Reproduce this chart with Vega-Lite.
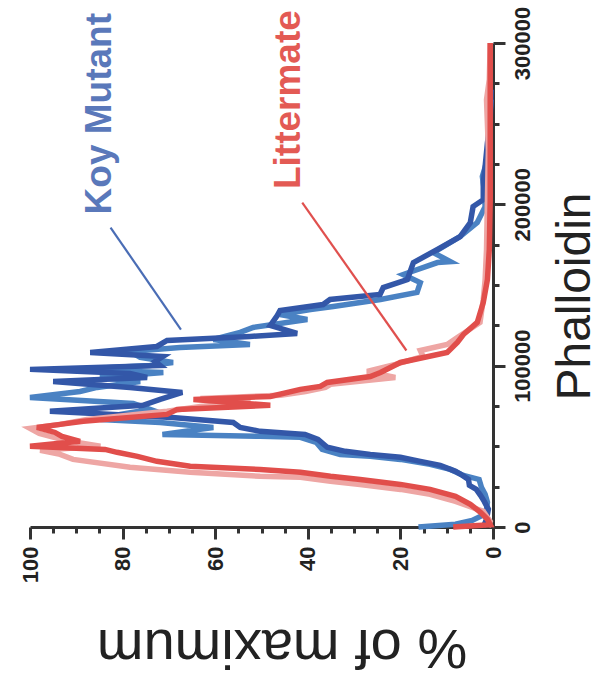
{
  "$schema": "https://vega.github.io/schema/vega-lite/v6.json",
  "width": 463,
  "height": 484,
  "autosize": "none",
  "padding": {"left": 30, "top": 43, "right": 109, "bottom": 154},
  "background": "white",
  "config": {"view": {"stroke": null}, "font": "Liberation Sans"},
  "datasets": {
    "koy1": [
      {"phalloidin": 0, "pct": 2.1}, {"phalloidin": 4800, "pct": 1.4}, {"phalloidin": 11000, "pct": 1.0}, {"phalloidin": 15900, "pct": 1.9},
      {"phalloidin": 19600, "pct": 2.7}, {"phalloidin": 23300, "pct": 3.6}, {"phalloidin": 25800, "pct": 5.1}, {"phalloidin": 29500, "pct": 5.3},
      {"phalloidin": 32000, "pct": 6.6}, {"phalloidin": 34500, "pct": 8.1}, {"phalloidin": 38200, "pct": 11.4}, {"phalloidin": 40700, "pct": 15.7},
      {"phalloidin": 43200, "pct": 20.0}, {"phalloidin": 45000, "pct": 26.5}, {"phalloidin": 46900, "pct": 31.9}, {"phalloidin": 49400, "pct": 35.8},
      {"phalloidin": 54300, "pct": 37.8}, {"phalloidin": 57400, "pct": 40.6}, {"phalloidin": 59300, "pct": 50.3}, {"phalloidin": 61700, "pct": 54.6},
      {"phalloidin": 64800, "pct": 56.1}, {"phalloidin": 67900, "pct": 69.3}, {"phalloidin": 71700, "pct": 95.7}, {"phalloidin": 75400, "pct": 75.6},
      {"phalloidin": 79100, "pct": 71.9}, {"phalloidin": 83400, "pct": 67.1}, {"phalloidin": 86500, "pct": 78.4}, {"phalloidin": 90200, "pct": 95.0},
      {"phalloidin": 92700, "pct": 74.7}, {"phalloidin": 95200, "pct": 78.4}, {"phalloidin": 97700, "pct": 100}, {"phalloidin": 100100, "pct": 71.9},
      {"phalloidin": 102600, "pct": 73.0}, {"phalloidin": 105700, "pct": 71.3}, {"phalloidin": 108200, "pct": 87.0}, {"phalloidin": 111900, "pct": 72.6},
      {"phalloidin": 115600, "pct": 70.4}, {"phalloidin": 118100, "pct": 52.5}, {"phalloidin": 120000, "pct": 42.3}, {"phalloidin": 124900, "pct": 48.1},
      {"phalloidin": 131100, "pct": 46.6}, {"phalloidin": 134200, "pct": 46.0}, {"phalloidin": 137900, "pct": 36.7}, {"phalloidin": 141000, "pct": 35.2},
      {"phalloidin": 144100, "pct": 24.4}, {"phalloidin": 148400, "pct": 23.7}, {"phalloidin": 153400, "pct": 18.5}, {"phalloidin": 163900, "pct": 17.2},
      {"phalloidin": 172000, "pct": 12.0}, {"phalloidin": 180000, "pct": 7.1}, {"phalloidin": 188700, "pct": 4.9}, {"phalloidin": 198600, "pct": 4.3},
      {"phalloidin": 202900, "pct": 2.1}, {"phalloidin": 213500, "pct": 2.1}, {"phalloidin": 223400, "pct": 1.7}, {"phalloidin": 238200, "pct": 1.2},
      {"phalloidin": 244400, "pct": 0.9}, {"phalloidin": 252500, "pct": 0.6}, {"phalloidin": 271100, "pct": 0.4}
    ],
    "koy2": [
      {"phalloidin": 0, "pct": 16.1}, {"phalloidin": 1700, "pct": 8.1}, {"phalloidin": 4100, "pct": 4.5}, {"phalloidin": 7200, "pct": 2.3},
      {"phalloidin": 11000, "pct": 1.4}, {"phalloidin": 15300, "pct": 1.2}, {"phalloidin": 20300, "pct": 1.7}, {"phalloidin": 24600, "pct": 2.5},
      {"phalloidin": 29500, "pct": 3.0}, {"phalloidin": 32000, "pct": 6.4}, {"phalloidin": 35700, "pct": 9.2}, {"phalloidin": 38800, "pct": 13.6},
      {"phalloidin": 41900, "pct": 20.0}, {"phalloidin": 43800, "pct": 26.5}, {"phalloidin": 45000, "pct": 33.0}, {"phalloidin": 48100, "pct": 36.9},
      {"phalloidin": 52500, "pct": 38.2}, {"phalloidin": 55600, "pct": 41.6}, {"phalloidin": 56200, "pct": 50.3}, {"phalloidin": 57400, "pct": 71.4},
      {"phalloidin": 61700, "pct": 60.4}, {"phalloidin": 64800, "pct": 71.9}, {"phalloidin": 66700, "pct": 84.8}, {"phalloidin": 69800, "pct": 80.5},
      {"phalloidin": 72900, "pct": 74.1}, {"phalloidin": 76600, "pct": 77.7}, {"phalloidin": 80300, "pct": 100}, {"phalloidin": 84000, "pct": 89.2},
      {"phalloidin": 86500, "pct": 85.5}, {"phalloidin": 90200, "pct": 76.2}, {"phalloidin": 92700, "pct": 84.9}, {"phalloidin": 95800, "pct": 71.2},
      {"phalloidin": 97700, "pct": 90.9}, {"phalloidin": 100100, "pct": 74.1}, {"phalloidin": 102000, "pct": 69.1}, {"phalloidin": 105100, "pct": 76.2},
      {"phalloidin": 108800, "pct": 78.4}, {"phalloidin": 111300, "pct": 67.6}, {"phalloidin": 113100, "pct": 52.5}, {"phalloidin": 116200, "pct": 60.4},
      {"phalloidin": 120600, "pct": 54.6}, {"phalloidin": 123700, "pct": 51.8}, {"phalloidin": 128600, "pct": 40.1}, {"phalloidin": 131700, "pct": 46.0},
      {"phalloidin": 134800, "pct": 39.4}, {"phalloidin": 136700, "pct": 34.5}, {"phalloidin": 141000, "pct": 24.3}, {"phalloidin": 145400, "pct": 16.4},
      {"phalloidin": 151500, "pct": 15.7}, {"phalloidin": 156500, "pct": 19.4}, {"phalloidin": 163900, "pct": 12.0}, {"phalloidin": 164500, "pct": 9.2},
      {"phalloidin": 170100, "pct": 12.9}, {"phalloidin": 180000, "pct": 7.1}, {"phalloidin": 188700, "pct": 3.4}, {"phalloidin": 198600, "pct": 1.7},
      {"phalloidin": 209100, "pct": 1.9}, {"phalloidin": 217200, "pct": 2.3}, {"phalloidin": 227700, "pct": 1.2}, {"phalloidin": 244400, "pct": 1.0},
      {"phalloidin": 264900, "pct": 0.4}
    ],
    "lit1": [
      {"phalloidin": 0, "pct": 8.6}, {"phalloidin": 1400, "pct": 0.6}, {"phalloidin": 4800, "pct": 1.2}, {"phalloidin": 9100, "pct": 2.7},
      {"phalloidin": 14100, "pct": 4.9}, {"phalloidin": 19000, "pct": 8.1}, {"phalloidin": 23300, "pct": 13.6}, {"phalloidin": 26400, "pct": 20.0},
      {"phalloidin": 29500, "pct": 28.7}, {"phalloidin": 31400, "pct": 35.1}, {"phalloidin": 33900, "pct": 41.6}, {"phalloidin": 35700, "pct": 50.3},
      {"phalloidin": 37600, "pct": 65.4}, {"phalloidin": 40700, "pct": 72.6}, {"phalloidin": 43800, "pct": 76.8}, {"phalloidin": 46300, "pct": 81.2},
      {"phalloidin": 48100, "pct": 83.8}, {"phalloidin": 50000, "pct": 100}, {"phalloidin": 53100, "pct": 89.2}, {"phalloidin": 56200, "pct": 93.1},
      {"phalloidin": 58600, "pct": 94.6}, {"phalloidin": 61700, "pct": 98.5}, {"phalloidin": 63600, "pct": 93.5}, {"phalloidin": 65500, "pct": 88.5},
      {"phalloidin": 69800, "pct": 70.4}, {"phalloidin": 72900, "pct": 68.2}, {"phalloidin": 75400, "pct": 48.1}, {"phalloidin": 79100, "pct": 64.7},
      {"phalloidin": 80900, "pct": 48.1}, {"phalloidin": 85300, "pct": 41.6}, {"phalloidin": 87100, "pct": 37.3}, {"phalloidin": 89600, "pct": 35.8},
      {"phalloidin": 93300, "pct": 26.5}, {"phalloidin": 95800, "pct": 24.3}, {"phalloidin": 102000, "pct": 20.0}, {"phalloidin": 108200, "pct": 9.9},
      {"phalloidin": 114400, "pct": 7.7}, {"phalloidin": 119300, "pct": 6.4}, {"phalloidin": 126800, "pct": 3.4}, {"phalloidin": 139200, "pct": 2.1},
      {"phalloidin": 153400, "pct": 1.2}, {"phalloidin": 172000, "pct": 0.8}, {"phalloidin": 202900, "pct": 0.6}, {"phalloidin": 264900, "pct": 0.6},
      {"phalloidin": 300000, "pct": 0.6}
    ],
    "lit2": [
      {"phalloidin": 0, "pct": 1.0}, {"phalloidin": 3500, "pct": 0.6}, {"phalloidin": 9700, "pct": 2.1}, {"phalloidin": 15900, "pct": 8.1},
      {"phalloidin": 20300, "pct": 13.6}, {"phalloidin": 23300, "pct": 20.0}, {"phalloidin": 26400, "pct": 28.7}, {"phalloidin": 28300, "pct": 35.1},
      {"phalloidin": 30800, "pct": 41.6}, {"phalloidin": 31400, "pct": 50.3}, {"phalloidin": 33900, "pct": 65.4}, {"phalloidin": 37000, "pct": 78.4},
      {"phalloidin": 41900, "pct": 90.7}, {"phalloidin": 45000, "pct": 93.5}, {"phalloidin": 47500, "pct": 97.8}, {"phalloidin": 50000, "pct": 84.8},
      {"phalloidin": 53700, "pct": 92.4}, {"phalloidin": 58000, "pct": 98.0}, {"phalloidin": 61100, "pct": 100}, {"phalloidin": 63600, "pct": 93.5},
      {"phalloidin": 66700, "pct": 87.7}, {"phalloidin": 71700, "pct": 70.4}, {"phalloidin": 74700, "pct": 63.2}, {"phalloidin": 77200, "pct": 52.4},
      {"phalloidin": 79700, "pct": 63.2}, {"phalloidin": 81600, "pct": 45.9}, {"phalloidin": 84000, "pct": 40.5}, {"phalloidin": 86500, "pct": 36.2},
      {"phalloidin": 88400, "pct": 35.1}, {"phalloidin": 92700, "pct": 21.1}, {"phalloidin": 96400, "pct": 27.2}, {"phalloidin": 100800, "pct": 21.1},
      {"phalloidin": 105700, "pct": 15.1}, {"phalloidin": 109400, "pct": 15.7}, {"phalloidin": 113100, "pct": 9.9}, {"phalloidin": 117500, "pct": 7.7},
      {"phalloidin": 126800, "pct": 2.8}, {"phalloidin": 141000, "pct": 2.1}, {"phalloidin": 153400, "pct": 1.7}, {"phalloidin": 172000, "pct": 1.4},
      {"phalloidin": 202900, "pct": 1.2}, {"phalloidin": 233900, "pct": 1.0}, {"phalloidin": 264900, "pct": 1.4}, {"phalloidin": 277300, "pct": 0.8},
      {"phalloidin": 300000, "pct": 0.6}
    ]
  },
  "encoding": {
    "x": {
      "field": "pct",
      "type": "quantitative",
      "scale": {"domain": [0, 100], "reverse": true, "nice": false, "zero": false},
      "axis": {
        "orient": "bottom",
        "values": [0, 5, 10, 15, 20, 25, 30, 35, 40, 45, 50, 55, 60, 65, 70, 75, 80, 85, 90, 95, 100],
        "labelExpr": "datum.value % 20 === 0 ? datum.label : ''",
        "tickSize": {"condition": {"test": "datum.value % 20 === 0", "value": 12}, "value": 6},
        "tickWidth": 3,
        "tickColor": "#333333",
        "domainColor": "#333333",
        "domainWidth": 3,
        "grid": false,
        "labelAngle": -90,
        "labelAlign": "right",
        "labelBaseline": "middle",
        "labelPadding": 7,
        "labelFontSize": 22,
        "labelFontWeight": "bold",
        "labelFont": "Liberation Sans",
        "labelColor": "#222222",
        "labelOverlap": false,
        "labelFlush": false,
        "title": "% of maximum",
        "titleAngle": 180,
        "titleFontSize": 56,
        "titleFontWeight": "normal",
        "titleFont": "Liberation Sans",
        "titleColor": "#222222",
        "titleAlign": "center",
        "titleBaseline": "alphabetic",
        "titleX": 251.5,
        "titleY": 102
      }
    },
    "y": {
      "field": "phalloidin",
      "type": "quantitative",
      "scale": {"domain": [0, 300000], "nice": false, "zero": false},
      "axis": {
        "orient": "right",
        "values": [0, 25000, 50000, 75000, 100000, 125000, 150000, 175000, 200000, 225000, 250000, 275000, 300000],
        "format": "d",
        "labelExpr": "datum.value % 100000 === 0 ? datum.label : ''",
        "tickSize": {"condition": {"test": "datum.value % 100000 === 0", "value": 12}, "value": 6},
        "tickWidth": 3,
        "tickColor": "#333333",
        "domainColor": "#333333",
        "domainWidth": 3,
        "grid": false,
        "labelAngle": -90,
        "labelAlign": "center",
        "labelBaseline": "top",
        "labelPadding": 7,
        "labelFontSize": 22,
        "labelFontWeight": "bold",
        "labelFont": "Liberation Sans",
        "labelColor": "#222222",
        "labelOverlap": false,
        "labelFlush": false,
        "title": "Phalloidin",
        "titleAngle": 270,
        "titleFontSize": 48,
        "titleFontWeight": "normal",
        "titleFont": "Liberation Sans",
        "titleColor": "#222222",
        "titleAlign": "center",
        "titleBaseline": "alphabetic",
        "titleX": 96,
        "titleY": 253
      }
    }
  },
  "layer": [
    {
      "data": {"name": "koy2"},
      "mark": {"type": "line", "color": "#4a82c3", "strokeWidth": 5.5, "strokeJoin": "miter"},
      "encoding": {"order": {"value": null}}
    },
    {
      "data": {"name": "koy1"},
      "mark": {"type": "line", "color": "#3357a8", "strokeWidth": 5.5, "strokeJoin": "miter"},
      "encoding": {"order": {"value": null}}
    },
    {
      "data": {"name": "lit2"},
      "mark": {"type": "line", "color": "#eea6a4", "strokeWidth": 5.5, "strokeJoin": "miter"},
      "encoding": {"order": {"value": null}}
    },
    {
      "data": {"name": "lit1"},
      "mark": {"type": "line", "color": "#e14e4b", "strokeWidth": 5.5, "strokeJoin": "miter"},
      "encoding": {"order": {"value": null}}
    },
    {
      "data": {"values": [{"pct": 82.6, "phalloidin": 185600, "pct2": 67.4, "phal2": 122400}]},
      "mark": {"type": "rule", "color": "#4a6db5", "strokeWidth": 2.2},
      "encoding": {"x2": {"field": "pct2"}, "y2": {"field": "phal2"}}
    },
    {
      "data": {"values": [{"pct": 41.2, "phalloidin": 201100, "pct2": 18.7, "phal2": 109400}]},
      "mark": {"type": "rule", "color": "#e0504e", "strokeWidth": 2.2},
      "encoding": {"x2": {"field": "pct2"}, "y2": {"field": "phal2"}}
    },
    {
      "data": {"values": [{"pct": 84.8, "phalloidin": 256200, "label": "Koy Mutant"}]},
      "mark": {"type": "text", "angle": 270, "fontSize": 37, "fontWeight": "bold", "font": "Liberation Sans", "color": "#5a78ba", "align": "center", "baseline": "middle"},
      "encoding": {"text": {"field": "label"}}
    },
    {
      "data": {"values": [{"pct": 44.1, "phalloidin": 264900, "label": "Littermate"}]},
      "mark": {"type": "text", "angle": 270, "fontSize": 37, "fontWeight": "bold", "font": "Liberation Sans", "color": "#e35a54", "align": "center", "baseline": "middle"},
      "encoding": {"text": {"field": "label"}}
    }
  ]
}
